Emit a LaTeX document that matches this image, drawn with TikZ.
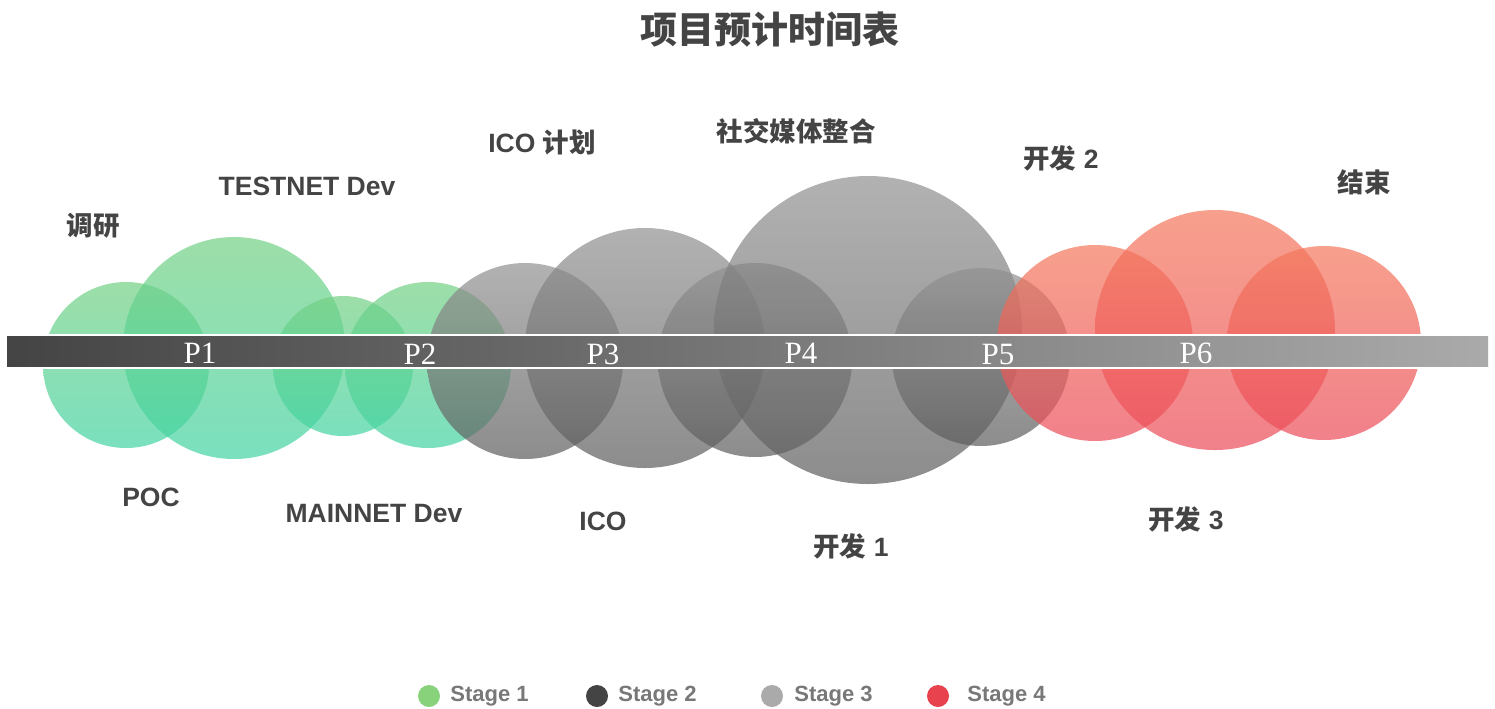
\documentclass[tikz,border=0pt]{standalone}
\usepackage{fontspec}
\setmainfont{Liberation Sans}
\newfontfamily\cjk{Noto Sans CJK SC}
\newfontfamily\slab{Liberation Serif}
\definecolor{gtop}{RGB}{115,208,131}
\definecolor{gbot}{RGB}{65,211,162}
\definecolor{stop}{RGB}{145,145,145}
\definecolor{sbot}{RGB}{92,92,92}
\definecolor{rtop}{RGB}{244,119,91}
\definecolor{rbot}{RGB}{235,74,88}
\definecolor{txt}{RGB}{68,68,68}
\definecolor{legtxt}{RGB}{120,120,120}
\definecolor{lg1}{RGB}{136,210,124}
\definecolor{lg2}{RGB}{68,68,68}
\definecolor{lg3}{RGB}{170,170,170}
\definecolor{lg4}{RGB}{232,66,79}
\begin{document}
\begin{tikzpicture}[x=0.5pt,y=-0.5pt,
  gb/.style={top color=gtop,bottom color=gbot,fill opacity=0.7},
  sb/.style={top color=stop,bottom color=sbot,fill opacity=0.7},
  rb/.style={top color=rtop,bottom color=rbot,fill opacity=0.7},
  plab/.style={text=white,font=\slab\fontsize{15.5}{15.5}\selectfont,inner sep=0pt},
  lab/.style={text=txt,font=\bfseries\fontsize{13.25}{14}\selectfont,inner sep=0pt},
  legt/.style={text=legtxt,font=\bfseries\fontsize{11}{12}\selectfont,inner sep=0pt,anchor=west},
  sepline/.style={white,line width=1pt}]
\useasboundingbox (0,0) rectangle (1495,708);
% title
\node[text=txt,font=\cjk\bfseries\fontsize{18.5}{20}\selectfont,inner sep=0pt] (title) at (770,30) {项目预计时间表};
% green bubbles
\shade[gb] (126,365) circle[radius={83*0.5pt}];
\shade[gb] (234,348) circle[radius={111*0.5pt}];
\shade[gb] (343,366) circle[radius={70*0.5pt}];
\shade[gb] (428,365) circle[radius={83*0.5pt}];
% gray bubbles
\shade[sb] (525,361) circle[radius={98*0.5pt}];
\shade[sb] (645,348) circle[radius={120*0.5pt}];
\shade[sb] (755,360) circle[radius={97*0.5pt}];
\shade[sb] (868,330) circle[radius={154*0.5pt}];
\shade[sb] (981,357) circle[radius={89*0.5pt}];
% red bubbles
\shade[rb] (1095,343) circle[radius={98*0.5pt}];
\shade[rb] (1215,330) circle[radius={120*0.5pt}];
\shade[rb] (1324,343) circle[radius={97*0.5pt}];
% bar
\shade[left color=lg2,right color=lg3] (7,335) rectangle (1488,368);
\draw[sepline] (7,335) -- (1488,335);
\draw[sepline] (7,368) -- (1488,368);
\node[plab] (p1) at (200,353) {P1};
\node[plab] (p2) at (420,354) {P2};
\node[plab] (p3) at (603,354) {P3};
\node[plab] (p4) at (801,353) {P4};
\node[plab] (p5) at (998,354) {P5};
\node[plab] (p6) at (1196,353) {P6};
% labels
\node[lab] (l1) at (93,226) {\cjk 调研};
\node[lab] (l2) at (307,186) {TESTNET Dev};
\node[lab] (l3) at (542,142) {ICO {\cjk 计划}};
\node[lab] (l4) at (796,131) {\cjk 社交媒体整合};
\node[lab] (l5) at (1061,158) {{\cjk 开发} 2};
\node[lab] (l6) at (1364,182) {\cjk 结束};
\node[lab] (l7) at (151,497) {POC};
\node[lab] (l8) at (374,514) {MAINNET Dev};
\node[lab] (l9) at (603,521) {ICO};
\node[lab] (l10) at (851,546) {{\cjk 开发} 1};
\node[lab] (l11) at (1186,519) {{\cjk 开发} 3};
% legend
\fill[lg1] (429,696) circle[radius=5.5pt];
\fill[lg2] (597,696) circle[radius=5.5pt];
\fill[lg3] (772,696) circle[radius=5.5pt];
\fill[lg4] (938,696) circle[radius=5.5pt];
\node[legt] (s1) at (450,696) {Stage 1};
\node[legt] (s2) at (618,696) {Stage 2};
\node[legt] (s3) at (794,696) {Stage 3};
\node[legt] (s4) at (967,696) {Stage 4};
\end{tikzpicture}
\end{document}
